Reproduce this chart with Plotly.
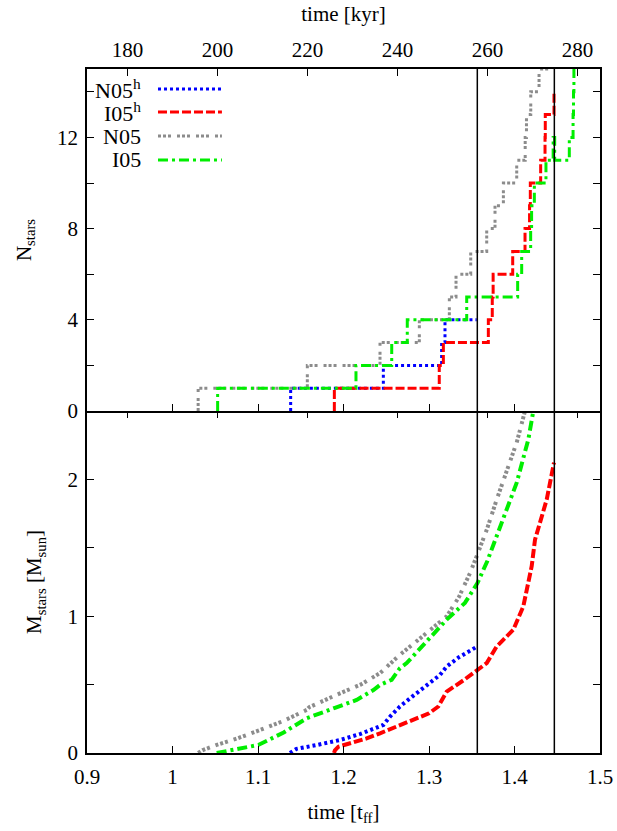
import plotly.graph_objects as go

# ---- star counts: times (t_ff) at which N changes, and the count reached ----
n05h_t = [1.1382, 1.1382, 1.2466, 1.3148, 1.3187, 1.3558]
n05h_n = [0, 1, 2, 3, 4, 4]

i05h_t = [1.1893, 1.1893, 1.3120, 1.3168, 1.3694, 1.3740, 1.3750, 1.3979,
          1.4123, 1.4176, 1.4185, 1.4306, 1.4357, 1.4360, 1.4462, 1.4462]
i05h_n = [0, 1, 2, 3, 4, 5, 6, 7, 8, 9, 10, 11, 12, 13, 14, 14]

n05_t = [1.030, 1.030, 1.1577, 1.2427, 1.2887, 1.3238, 1.3316, 1.3488, 1.3675,
         1.3772, 1.3870, 1.4026, 1.4125, 1.4140, 1.4190, 1.4287, 1.4396]
n05_n = [0, 1, 2, 3, 4, 5, 6, 7, 8, 9, 10, 11, 12, 13, 14, 15, 15]

i05_t = [1.0528, 1.0528, 1.2146, 1.2564, 1.2746, 1.3441, 1.4037, 1.4084, 1.4189,
         1.4200, 1.4232, 1.4368, 1.4452, 1.4470, 1.4641, 1.4685, 1.4690, 1.4695,
         1.4734]
i05_n = [0, 1, 2, 3, 4, 5, 6, 7, 8, 9, 10, 11, 12, 11, 12, 13, 14, 15, 15]

# ---- total stellar mass (M_sun) versus time (t_ff) ----
n05h_mt = [1.1374, 1.145, 1.17, 1.196, 1.22, 1.2466, 1.255, 1.266, 1.28, 1.30,
           1.3129, 1.3207, 1.335, 1.3565]
n05h_m = [0.00, 0.03, 0.06, 0.095, 0.14, 0.205, 0.27, 0.34, 0.41, 0.51,
          0.571, 0.632, 0.70, 0.779]

i05h_mt = [1.1889, 1.190, 1.194, 1.21, 1.227, 1.2427, 1.266, 1.2817, 1.30, 1.3109,
           1.3207, 1.34, 1.3565, 1.3675, 1.3792, 1.3986, 1.4103, 1.4201, 1.424,
           1.4377, 1.4462]
i05h_m = [0.00, 0.02, 0.046, 0.075, 0.107, 0.144, 0.205, 0.242, 0.29, 0.34,
          0.449, 0.53, 0.608, 0.657, 0.779, 0.901, 1.072, 1.365, 1.56,
          1.853, 2.122]

n05_mt = [1.030, 1.035, 1.0517, 1.075, 1.1004, 1.13, 1.157, 1.16, 1.19, 1.22,
          1.2427, 1.266, 1.29, 1.3207, 1.335, 1.348, 1.3565, 1.368, 1.3792,
          1.3909, 1.4026, 1.4123]
n05_m = [0.00, 0.02, 0.059, 0.105, 0.163, 0.235, 0.315, 0.335, 0.42, 0.50,
         0.584, 0.718, 0.84, 0.999, 1.14, 1.316, 1.45, 1.64, 1.853,
         2.073, 2.27, 2.5]

i05_mt = [1.0517, 1.075, 1.1004, 1.13, 1.157, 1.19, 1.2154, 1.235, 1.2427, 1.2563,
          1.266, 1.2739, 1.30, 1.3207, 1.342, 1.3565, 1.368, 1.3792, 1.39,
          1.4026, 1.4162, 1.422]
i05_m = [0.00, 0.03, 0.059, 0.15, 0.254, 0.33, 0.388, 0.46, 0.498, 0.535,
         0.62, 0.657, 0.84, 0.975, 1.097, 1.24, 1.40, 1.585, 1.77,
         1.976, 2.293, 2.5]

# end times of the two "h" runs, marked across both panels
run_ends = [1.3565, 1.4466]

# conversion between free-fall time and kyr for the upper axis
KYR_PER_TFF = 190.0
tff_range = [0.9, 1.5]
tff_ticks = [0.9, 1.0, 1.1, 1.2, 1.3, 1.4, 1.5]
tff_labels = ["0.9", "1", "1.1", "1.2", "1.3", "1.4", "1.5"]
kyr_ticks = [180, 200, 220, 240, 260, 280]

series = [
    # label, colour, dash, step data, mass data
    ("N05<sup>h</sup>", "#0000ff", "3px,3px", (n05h_t, n05h_n), (n05h_mt, n05h_m)),
    ("I05<sup>h</sup>", "#ff0000", "9px,3px", (i05h_t, i05h_n), (i05h_mt, i05h_m)),
    ("N05", "#8c8c8c", "3px,2px,3px,2px,3px,6px", (n05_t, n05_n), (n05_mt, n05_m)),
    ("I05", "#00ee00", "10px,4px,3px,4px", (i05_t, i05_n), (i05_mt, i05_m)),
]

FONT = "Times New Roman, Liberation Serif, DejaVu Serif, serif"
fig = go.Figure()

for name, color, dash, (st, sn), (mt, mm) in series:
    fig.add_trace(go.Scatter(x=st, y=sn, mode="lines", line_shape="hv",
                             line=dict(color=color, width=3, dash=dash),
                             xaxis="x2", yaxis="y2", showlegend=False, name=name))
    fig.add_trace(go.Scatter(x=mt, y=mm, mode="lines",
                             line=dict(color=color, width=4, dash=dash),
                             xaxis="x", yaxis="y", showlegend=False, name=name))

# empty traces so the kyr axes get their own subplots
fig.add_trace(go.Scatter(x=[], y=[], xaxis="x3", yaxis="y2", showlegend=False))
fig.add_trace(go.Scatter(x=[], y=[], xaxis="x4", yaxis="y", showlegend=False))

for t in run_ends:
    fig.add_shape(type="line", xref="x", yref="paper", x0=t, x1=t, y0=0, y1=1,
                  line=dict(color="black", width=1.5), layer="above")

# hand-drawn key: labels right-aligned, line samples to their right
key_rows_y = [0.9708, 0.9371, 0.9020, 0.8670]
for (name, color, dash, _, _), ky in zip(series, key_rows_y):
    fig.add_annotation(text=name, xref="paper", yref="paper", x=0.109, y=ky,
                       xanchor="right", yanchor="middle", showarrow=False,
                       font=dict(family=FONT, size=22, color="black"))
    fig.add_shape(type="line", xref="paper", yref="paper", x0=0.1384, x1=0.263,
                  y0=ky, y1=ky, line=dict(color=color, width=3, dash=dash))

axis_common = dict(linecolor="black", linewidth=1.5, automargin=False,
                   ticks="inside", ticklen=7, tickwidth=1.2, tickcolor="black",
                   showgrid=False, zeroline=False,
                   tickfont=dict(family=FONT, size=21, color="black"))
minor_common = dict(ticks="inside", ticklen=7, tickwidth=1.2, tickcolor="black",
                    showgrid=False)

kyr_range = [tff_range[0] * KYR_PER_TFF, tff_range[1] * KYR_PER_TFF]

fig.update_layout(
    width=617, height=831,
    margin=dict(l=87, r=17, t=69, b=78, autoexpand=False),
    plot_bgcolor="white", paper_bgcolor="white",
    font=dict(family=FONT, size=21, color="black"),
    # lower panel: t_ff axis along the bottom
    xaxis=dict(axis_common, anchor="y", domain=[0, 1], range=tff_range,
               tickvals=tff_ticks, ticktext=tff_labels, showline=True, mirror=False,
               ticklabelstandoff=4,
               title=dict(text="time [t<sub>ff</sub>]", standoff=16,
                          font=dict(family=FONT, size=21))),
    # upper panel: t_ff ticks along its bottom edge, frame on top
    xaxis2=dict(axis_common, anchor="y2", domain=[0, 1], range=tff_range,
                tickvals=tff_ticks, showticklabels=False, showline=True, mirror=True),
    # kyr axis on top of the upper panel
    xaxis3=dict(axis_common, anchor="y2", overlaying="x2", side="top",
                range=kyr_range, tickvals=kyr_ticks, showline=False,
                ticklabelstandoff=7,
                title=dict(text="time [kyr]", standoff=10,
                           font=dict(family=FONT, size=21))),
    # kyr ticks on top of the lower panel
    xaxis4=dict(axis_common, anchor="y", overlaying="x", side="top",
                range=kyr_range, tickvals=kyr_ticks, showticklabels=False,
                showline=False),
    yaxis=dict(axis_common, anchor="x", domain=[0, 0.5], range=[0, 2.5],
               tick0=0, dtick=1, minor=dict(minor_common, dtick=0.5),
               showline=True, mirror="allticks", ticklabelstandoff=3,
               title=dict(text="M<sub>stars</sub> [M<sub>sun</sub>]", standoff=20,
                          font=dict(family=FONT, size=21))),
    yaxis2=dict(axis_common, anchor="x2", domain=[0.5, 1], range=[0, 15],
                tick0=0, dtick=4, minor=dict(minor_common, dtick=2),
                showline=True, mirror="allticks", ticklabelstandoff=3,
                title=dict(text="N<sub>stars</sub>", standoff=20,
                           font=dict(family=FONT, size=21))),
)

fig.write_html("out.html")
